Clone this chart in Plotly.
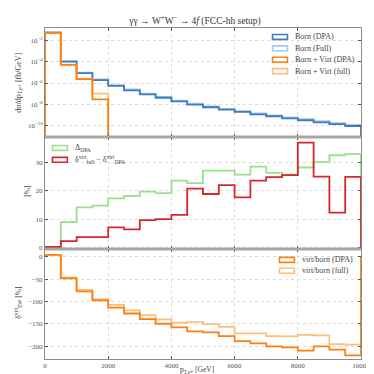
import plotly.graph_objects as go
from plotly.subplots import make_subplots

# bin edges in p_T,e+ [GeV]
edges = [0, 500, 1000, 1500, 2000, 2500, 3000, 3500, 4000, 4500, 5000,
         5500, 6000, 6500, 7000, 7500, 8000, 8500, 9000, 9500, 10000]
x_ticks = [0, 2000, 4000, 6000, 8000, 10000]

# top panel: dsigma/dpT [fb/GeV]
born_dpa = [5.1e-2, 1.0e-4, 8.5e-6, 1.9e-6, 5.4e-7, 2.1e-7, 8.5e-8, 4.2e-8, 1.9e-8, 9.5e-9,
            5.4e-9, 3.2e-9, 2.0e-9, 1.17e-9, 7.8e-10, 5.0e-10, 3.3e-10, 2.1e-10, 1.4e-10, 9.5e-11]
born_full = [5.2e-2, 1.1e-4, 9.6e-6, 2.2e-6, 6.3e-7, 2.5e-7, 1.0e-7, 5.0e-8, 2.3e-8, 1.15e-8,
             6.5e-9, 3.9e-9, 2.4e-9, 1.45e-9, 9.6e-10, 6.2e-10, 4.1e-10, 2.7e-10, 1.8e-10, 1.2e-10]
virt_dpa = [5.3e-2, 5.0e-5, 2.3e-6, 3.0e-8]
virt_full = [5.3e-2, 5.2e-5, 2.4e-6, 1.0e-7]

# middle panel [%]
delta_dpa = [0.2, 9.0, 14.2, 14.8, 17.4, 18.2, 19.7, 19.2, 23.6, 22.7,
             27.1, 27.1, 25.7, 28.5, 26.3, 25.7, 28.2, 30.1, 32.5, 32.9]
delta_diff = [0.3, 2.4, 3.8, 3.8, 7.2, 6.5, 9.7, 10.1, 11.6, 20.8,
              18.9, 22.0, 17.7, 23.6, 24.8, 25.5, 36.9, 25.0, 12.4, 24.9]

# bottom panel: virt/born [%]
ratio_dpa = [4.5, -48.5, -77.6, -97.8, -114, -127, -139.6, -150, -158, -167,
             -169.4, -177.6, -188.8, -194, -200.7, -203, -210.4, -200.7, -208, -221]
ratio_full = [4.5, -46, -74, -95, -107.5, -120, -130.6, -140, -147.8, -146,
              -150.7, -156.7, -171.6, -171.6, -177.6, -178.4, -175, -176, -195.5, -197]

C_BORN = "#3a7dc0"
C_BORNF = "#aac8ea"
C_VIRT = "#ff7f0e"
C_VIRTF = "#ffbe80"
C_GREEN = "#9be08c"
C_RED = "#d8262c"
FONT = "Liberation Serif"


def step(vals, base):
    n = len(vals)
    xs = [edges[0]] + edges[:n + 1] + [edges[n]]
    ys = [base] + list(vals) + [vals[-1], base]
    return xs, ys


fig = make_subplots(rows=3, cols=1, shared_xaxes=True, vertical_spacing=0)

for vals, col, row, base in [
    (born_full, C_BORNF, 1, 1e-30), (born_dpa, C_BORN, 1, 1e-30),
    (virt_full, C_VIRTF, 1, 1e-30), (virt_dpa, C_VIRT, 1, 1e-30),
    (delta_dpa, C_GREEN, 2, 0), (delta_diff, C_RED, 2, 0),
    (ratio_full, C_VIRTF, 3, 0), (ratio_dpa, C_VIRT, 3, 0),
]:
    xs, ys = step(vals, base)
    fig.add_trace(go.Scatter(x=xs, y=ys, mode="lines", line=dict(color=col, width=1.8, shape="hv"),
                             showlegend=False, hoverinfo="skip"), row=row, col=1)

axis_common = dict(showline=True, linecolor="#8c8c8c", linewidth=1, mirror="ticks",
                   ticks="inside", ticklen=3, tickcolor="#555", showgrid=True,
                   gridcolor="#dcdcdc", griddash="dot", gridwidth=0.8, zeroline=False,
                   ticklabeloverflow="allow",
                   tickfont=dict(family=FONT, size=7, color="#555"))

for r in (1, 2, 3):
    fig.update_xaxes(range=[0, 10000], tickvals=x_ticks, ticktext=[str(t) for t in x_ticks],
                     ticklabelstandoff=0, **axis_common, row=r, col=1)
fig.update_xaxes(showticklabels=False, row=1, col=1)
fig.update_xaxes(showticklabels=False, row=2, col=1)

top_ticks = [1e-2, 1e-4, 1e-6, 1e-8, 1e-10]
fig.update_yaxes(type="log", range=[-11.05, -0.85], tickvals=top_ticks,
                 ticktext=["10<sup>−2</sup>", "10<sup>−4</sup>", "10<sup>−6</sup>", "10<sup>−8</sup>", "10<sup>−10</sup>"],
                 domain=[0.6707, 1.0], **axis_common, row=1, col=1)
fig.update_yaxes(range=[-0.4, 38.9], tickvals=[0, 10, 20, 30], domain=[0.3323, 0.6707], **axis_common, row=2, col=1)
fig.update_yaxes(range=[-229, 17.5], tickvals=[0, -50, -100, -150, -200], domain=[0, 0.3323], **axis_common, row=3, col=1)


def px(x):
    return (x - 37) / 318


def py(y):
    return (354 - y) / 334


shapes = []
annotations = []
# separators between panels
for yy in (130, 243):
    shapes.append(dict(type="line", xref="paper", yref="paper", x0=0, x1=1, y0=py(yy), y1=py(yy),
                       line=dict(color="#a6a6a6", width=3)))


def legend(items, x0, y0, dy):
    for i, (label, col) in enumerate(items):
        yc = y0 + i * dy
        shapes.append(dict(type="rect", xref="paper", yref="paper", x0=px(x0), x1=px(x0 + 15),
                           y0=py(yc + 2.5), y1=py(yc - 2.5), line=dict(color=col, width=1.6)))
        annotations.append(dict(text=label, xref="paper", yref="paper", x=px(x0 + 21), y=py(yc),
                                xanchor="left", yanchor="middle", showarrow=False,
                                font=dict(family=FONT, size=8, color="#444")))


legend([("Born (DPA)", C_BORN), ("Born (Full)", C_BORNF),
        ("Born + Virt (DPA)", C_VIRT), ("Born + Virt (full)", C_VIRTF)], 266, 29, 11.5)
legend([("Δ<sub>DPA</sub>", C_GREEN), ("δ<sup>virt</sup><sub>full</sub> − δ<sup>virt</sup><sub>DPA</sub>", C_RED)], 44.5, 141, 12)
legend([("virt/born (DPA)", C_VIRT), ("virt/born (full)", C_VIRTF)], 273, 254, 11)

# axis labels
lab = dict(xref="paper", yref="paper", showarrow=False, xanchor="center", yanchor="middle")
annotations += [
    dict(text="dσ/dp<sub>T,e+</sub> [fb/GeV]", x=px(10), y=py(75), textangle=-90,
         font=dict(family=FONT, size=8, color="#444"), **lab),
    dict(text="[%]", x=px(19), y=py(185), textangle=-90,
         font=dict(family=FONT, size=7.5, color="#444"), **lab),
    dict(text="δ<sup>virt</sup><sub>EW</sub> [%]", x=px(10), y=py(297), textangle=-90,
         font=dict(family=FONT, size=7.5, color="#444"), **lab),
    dict(text="p<sub>T,e+</sub> [GeV]", x=px(190), y=py(365), borderpad=0,
         font=dict(family=FONT, size=7.5, color="#444"), **lab),
]

fig.update_layout(
    width=374, height=374,
    margin=dict(l=37, r=19, t=20, b=20),
    paper_bgcolor="white", plot_bgcolor="white",
    title=dict(text="γγ → W<sup>+</sup>W<sup>−</sup> → 4<i>f</i> (FCC-hh setup)", x=px(196), xanchor="center",
               y=(374 - 13) / 374, yanchor="middle", font=dict(family=FONT, size=9.5, color="#333")),
    shapes=shapes, annotations=annotations,
    showlegend=False,
)

fig.write_html("out.html")
